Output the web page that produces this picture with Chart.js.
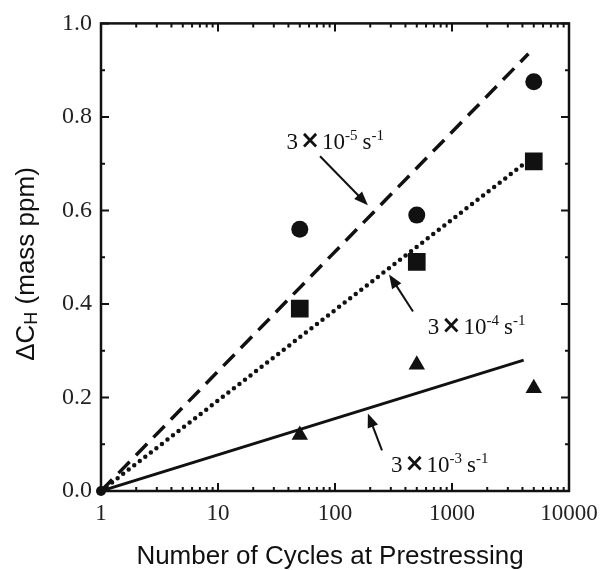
<!DOCTYPE html>
<html>
<head>
<meta charset="utf-8">
<script src="https://cdn.jsdelivr.net/npm/chart.js@4.4.1/dist/chart.umd.min.js"></script>
<style>
  html, body { margin: 0; padding: 0; background: #fff; }
  #wrap { width: 608px; height: 570px; }
</style>
</head>
<body>
<div id="wrap"><canvas id="chart" width="608" height="570"></canvas></div>
<script>
// measured points (prestress cycles vs. hydrogen uptake)
const cycles = [50, 500, 5000];
const circleVals = [0.56, 0.59, 0.875];   // 3x10^-5 s^-1
const squareVals = [0.39, 0.49, 0.705];   // 3x10^-4 s^-1
const triangleVals = [0.12, 0.27, 0.22];  // 3x10^-3 s^-1

// fitted lines (straight on the log axis)
const fit5Cycles = [1, 4500];
const fit5Vals = [0, 0.935];
const fit4Cycles = [1, 4400];
const fit4Vals = [0, 0.705];
const fit3Cycles = [1, 4100];
const fit3Vals = [0, 0.28];

const originCycles = [1];
const originVals = [0];

const xTickVals = [1, 10, 100, 1000, 10000];
const yTickVals = [0, 0.2, 0.4, 0.6, 0.8, 1.0];

const toPts = (xs, ys) => xs.map((x, i) => ({ x: x, y: ys[i] }));

const SERIF = '"Liberation Serif", "Times New Roman", serif';
const SANS = '"Liberation Sans", Arial, sans-serif';
const INK = '#111';

// rate labels with superscripts
function drawRate(ctx, x, y, exp) {
  ctx.save();
  ctx.fillStyle = INK;
  ctx.textBaseline = 'alphabetic';
  ctx.textAlign = 'left';
  ctx.font = '23px ' + SERIF;
  ctx.fillText('3', x, y);
  x += ctx.measureText('3').width + 2;
  ctx.font = 'bold 24px "DejaVu Sans", sans-serif';
  ctx.fillText('\u00d7', x, y - 1);
  x += ctx.measureText('\u00d7').width + 2;
  ctx.font = '23px ' + SERIF;
  ctx.fillText('10', x, y);
  x += ctx.measureText('10').width;
  ctx.font = '15px ' + SERIF;
  ctx.fillText(exp, x, y - 9);
  x += ctx.measureText(exp).width + 5;
  ctx.font = '23px ' + SERIF;
  ctx.fillText('s', x, y);
  x += ctx.measureText('s').width;
  ctx.font = '15px ' + SERIF;
  ctx.fillText('-1', x, y - 9);
  ctx.restore();
}

function drawArrow(ctx, x1, y1, x2, y2) {
  const ang = Math.atan2(y2 - y1, x2 - x1);
  const head = 14, half = 5.5;
  ctx.save();
  ctx.strokeStyle = INK;
  ctx.fillStyle = INK;
  ctx.lineWidth = 2;
  ctx.beginPath();
  ctx.moveTo(x1, y1);
  ctx.lineTo(x2 - Math.cos(ang) * head * 0.8, y2 - Math.sin(ang) * head * 0.8);
  ctx.stroke();
  ctx.beginPath();
  ctx.moveTo(x2, y2);
  ctx.lineTo(x2 - Math.cos(ang) * head - Math.sin(ang) * half, y2 - Math.sin(ang) * head + Math.cos(ang) * half);
  ctx.lineTo(x2 - Math.cos(ang) * head + Math.sin(ang) * half, y2 - Math.sin(ang) * head - Math.cos(ang) * half);
  ctx.closePath();
  ctx.fill();
  ctx.restore();
}

// frame, inward ticks, titles and annotations
const decorPlugin = {
  id: 'decor',
  afterDatasetsDraw(chart) {
    const { ctx, chartArea: a, scales } = chart;
    const xs = scales.x, ys = scales.y;
    ctx.save();
    ctx.strokeStyle = INK;
    ctx.lineWidth = 2.5;
    ctx.strokeRect(a.left, a.top, a.right - a.left, a.bottom - a.top);

    ctx.lineWidth = 2;
    ctx.beginPath();
    // x ticks: decades major, 2..9 minor
    for (let d = 0; d < 4; d++) {
      for (let k = 1; k <= 9; k++) {
        const v = k * Math.pow(10, d);
        const px = xs.getPixelForValue(v);
        const len = k === 1 ? 8 : 4;
        ctx.moveTo(px, a.bottom); ctx.lineTo(px, a.bottom - len);
        ctx.moveTo(px, a.top); ctx.lineTo(px, a.top + len);
      }
    }
    // y ticks every 0.1, labelled ones longer
    for (let i = 0; i <= 10; i++) {
      const py = ys.getPixelForValue(i / 10);
      const len = i % 2 === 0 ? 8 : 4;
      ctx.moveTo(a.left, py); ctx.lineTo(a.left + len, py);
      ctx.moveTo(a.right, py); ctx.lineTo(a.right - len, py);
    }
    ctx.stroke();

    // x title
    ctx.fillStyle = INK;
    ctx.font = '26px ' + SANS;
    ctx.textAlign = 'center';
    ctx.textBaseline = 'alphabetic';
    ctx.fillText('Number of Cycles at Prestressing', 330, 564);

    // y title with subscript H
    ctx.save();
    ctx.translate(34, 264);
    ctx.rotate(-Math.PI / 2);
    const parts = [
      { t: '\u0394C', f: '26px ' + SANS, dy: 0 },
      { t: 'H', f: '18px ' + SANS, dy: 3 },
      { t: ' (mass ppm)', f: '26px ' + SANS, dy: 0 }
    ];
    let total = 0;
    parts.forEach(p => { ctx.font = p.f; total += ctx.measureText(p.t).width; });
    let cx = -total / 2;
    ctx.textAlign = 'left';
    parts.forEach(p => {
      ctx.font = p.f;
      ctx.fillText(p.t, cx, p.dy);
      cx += ctx.measureText(p.t).width;
    });
    ctx.restore();

    // annotations anchored in data coordinates
    const P = (x, y) => [xs.getPixelForValue(x), ys.getPixelForValue(y)];
    let p = P(38.5, 0.732);
    drawRate(ctx, p[0], p[1], '-5');
    p = P(622, 0.336);
    drawRate(ctx, p[0], p[1], '-4');
    p = P(301, 0.04);
    drawRate(ctx, p[0], p[1], '-3');

    let t = P(74.5, 0.716), h = P(191, 0.611);
    drawArrow(ctx, t[0], t[1], h[0], h[1]);
    t = P(464, 0.384); h = P(290, 0.463);
    drawArrow(ctx, t[0], t[1], h[0], h[1]);
    t = P(252, 0.087); h = P(191, 0.166);
    drawArrow(ctx, t[0], t[1], h[0], h[1]);
    ctx.restore();
  }
};

const ctx = document.getElementById('chart').getContext('2d');
const chart = new Chart(ctx, {
  type: 'scatter',
  data: {
    datasets: [
      {
        label: 'fit 3x10^-5',
        data: toPts(fit5Cycles, fit5Vals),
        showLine: true,
        borderColor: INK,
        borderWidth: 3.5,
        borderDash: [16, 9],
        pointRadius: 0,
        order: 3
      },
      {
        label: 'fit 3x10^-4',
        data: toPts(fit4Cycles, fit4Vals),
        showLine: true,
        borderColor: INK,
        borderWidth: 4.5,
        borderDash: [0, 7],
        borderCapStyle: 'round',
        pointRadius: 0,
        order: 3
      },
      {
        label: 'fit 3x10^-3',
        data: toPts(fit3Cycles, fit3Vals),
        showLine: true,
        borderColor: INK,
        borderWidth: 3,
        pointRadius: 0,
        order: 3
      },
      {
        label: '3x10^-5 s^-1',
        data: toPts(cycles, circleVals),
        pointStyle: 'circle',
        pointRadius: 8.5,
        backgroundColor: INK,
        borderColor: INK,
        borderWidth: 0,
        order: 1
      },
      {
        label: '3x10^-4 s^-1',
        data: toPts(cycles, squareVals),
        pointStyle: 'rect',
        pointRadius: 12.5,
        backgroundColor: INK,
        borderColor: INK,
        borderWidth: 0,
        order: 1
      },
      {
        label: '3x10^-3 s^-1',
        data: toPts(cycles, triangleVals),
        pointStyle: 'triangle',
        pointRadius: 9.5,
        backgroundColor: INK,
        borderColor: INK,
        borderWidth: 0,
        order: 1
      },
      {
        label: 'origin',
        data: toPts(originCycles, originVals),
        pointStyle: 'circle',
        pointRadius: 5,
        backgroundColor: INK,
        borderWidth: 0,
        clip: false,
        order: 1
      }
    ]
  },
  options: {
    responsive: false,
    animation: false,
    layout: { padding: { top: 20, right: 39, left: 0, bottom: 0 } },
    plugins: {
      legend: { display: false },
      tooltip: { enabled: false }
    },
    scales: {
      x: {
        type: 'logarithmic',
        min: 1,
        max: 10000,
        grid: { display: false, drawTicks: false },
        border: { display: false },
        afterBuildTicks: (scale) => {
          scale.ticks = xTickVals.map(v => ({ value: v }));
        },
        afterFit: (scale) => { scale.height = 79; },
        ticks: {
          autoSkip: false,
          maxRotation: 0,
          padding: 9,
          color: '#222',
          font: { family: SERIF, size: 23 },
          callback: (v) => String(v)
        }
      },
      y: {
        type: 'linear',
        min: 0,
        max: 1,
        grid: { display: false, drawTicks: false },
        border: { display: false },
        afterBuildTicks: (scale) => {
          scale.ticks = yTickVals.map(v => ({ value: v }));
        },
        afterFit: (scale) => { scale.width = 101; },
        ticks: {
          padding: 9,
          color: '#222',
          font: { family: SERIF, size: 24 },
          callback: (v) => Number(v).toFixed(1)
        }
      }
    }
  },
  plugins: [decorPlugin]
});
</script>
</body>
</html>
